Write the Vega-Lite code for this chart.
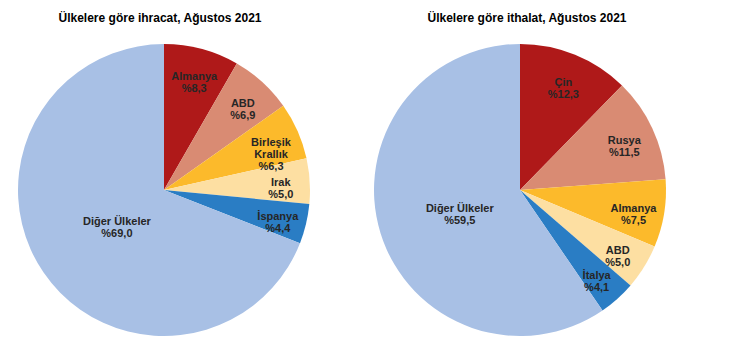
{
  "$schema": "https://vega.github.io/schema/vega-lite/v6.json",
  "padding": {"top": 12, "left": 0, "right": 0, "bottom": 0},
  "spacing": 28,
  "background": "white",
  "config": {
    "view": {"stroke": null},
    "font": "Liberation Sans",
    "title": {"fontSize": 12, "fontWeight": "bold", "color": "#000000", "font": "Liberation Sans"}
  },
  "datasets": {
    "exp": [
      {"rank": 1, "country": "Almanya", "value": 8.3, "label": "Almanya\n%8,3"},
      {"rank": 2, "country": "ABD", "value": 6.9, "label": "ABD\n%6,9"},
      {"rank": 3, "country": "Birleşik Krallık", "value": 6.3, "label": "Birleşik\nKrallık\n%6,3"},
      {"rank": 4, "country": "Irak", "value": 5.0, "label": "Irak\n%5,0"},
      {"rank": 5, "country": "İspanya", "value": 4.4, "label": "İspanya\n%4,4"},
      {"rank": 6, "country": "Diğer Ülkeler", "value": 69.0, "label": "Diğer Ülkeler\n%69,0"}
    ],
    "imp": [
      {"rank": 1, "country": "Çin", "value": 12.3, "label": "Çin\n%12,3"},
      {"rank": 2, "country": "Rusya", "value": 11.5, "label": "Rusya\n%11,5"},
      {"rank": 3, "country": "Almanya", "value": 7.5, "label": "Almanya\n%7,5"},
      {"rank": 4, "country": "ABD", "value": 5.0, "label": "ABD\n%5,0"},
      {"rank": 5, "country": "İtalya", "value": 4.1, "label": "İtalya\n%4,1"},
      {"rank": 6, "country": "Diğer Ülkeler", "value": 59.5, "label": "Diğer Ülkeler\n%59,5"}
    ]
  },
  "hconcat": [
    {
      "width": 328,
      "height": 300,
      "title": {"text": "Ülkelere göre ihracat, Ağustos 2021", "offset": 15, "dx": -4},
      "data": {"name": "exp"},
      "encoding": {
        "theta": {"field": "value", "type": "quantitative", "stack": true},
        "order": {"field": "rank", "type": "quantitative"}
      },
      "layer": [
        {
          "mark": {"type": "arc", "outerRadius": 146},
          "encoding": {
            "color": {"field": "rank", "type": "nominal", "legend": null,
              "scale": {"domain": [1, 2, 3, 4, 5, 6], "range": ["#AF1919", "#D98B73", "#FCBA2B", "#FDDFA2", "#2A7DC4", "#A8C0E5"]}}
          }
        },
        {
          "mark": {"type": "text", "radius": 117, "fontSize": 11, "fontWeight": "bold", "lineBreak": "\n", "color": "#262626", "lineHeight": 12},
          "encoding": {"text": {"condition": {"test": "datum.rank < 6", "field": "label"}, "value": ""}}
        },
        {
          "mark": {"type": "text", "radius": 57, "fontSize": 11, "fontWeight": "bold", "lineBreak": "\n", "color": "#262626", "lineHeight": 12},
          "encoding": {"text": {"condition": {"test": "datum.rank == 6", "field": "label"}, "value": ""}}
        }
      ]
    },
    {
      "width": 328,
      "height": 300,
      "title": {"text": "Ülkelere göre ithalat, Ağustos 2021", "offset": 15, "dx": 7},
      "data": {"name": "imp"},
      "encoding": {
        "theta": {"field": "value", "type": "quantitative", "stack": true},
        "order": {"field": "rank", "type": "quantitative"}
      },
      "layer": [
        {
          "mark": {"type": "arc", "outerRadius": 146},
          "encoding": {
            "color": {"field": "rank", "type": "nominal", "legend": null,
              "scale": {"domain": [1, 2, 3, 4, 5, 6], "range": ["#AF1919", "#D98B73", "#FCBA2B", "#FDDFA2", "#2A7DC4", "#A8C0E5"]}}
          }
        },
        {
          "mark": {"type": "text", "radius": 115, "fontSize": 11, "fontWeight": "bold", "lineBreak": "\n", "color": "#262626", "lineHeight": 12},
          "encoding": {"text": {"condition": {"test": "datum.rank < 6", "field": "label"}, "value": ""}}
        },
        {
          "mark": {"type": "text", "radius": 63, "fontSize": 11, "fontWeight": "bold", "lineBreak": "\n", "color": "#262626", "lineHeight": 12},
          "encoding": {"text": {"condition": {"test": "datum.rank == 6", "field": "label"}, "value": ""}}
        }
      ]
    }
  ]
}
